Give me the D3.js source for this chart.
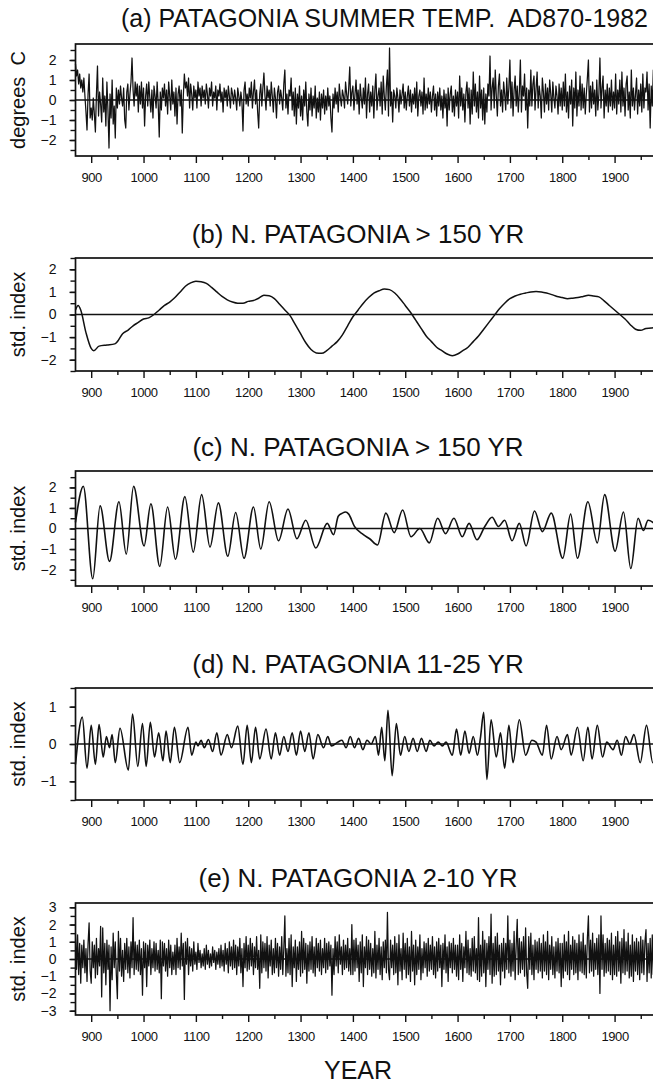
<!DOCTYPE html>
<html>
<head>
<meta charset="utf-8">
<script src="https://cdn.jsdelivr.net/npm/d3@7"></script>
<style>
  html, body { margin: 0; padding: 0; background: #fff; }
  svg text { fill: #111; white-space: pre; }
</style>
</head>
<body>
<div id="viz"></div>
<script>
// --- data ---
const titles = [
  "(a) PATAGONIA SUMMER TEMP.  AD870-1982",
  "(b) N. PATAGONIA > 150 YR",
  "(c) N. PATAGONIA > 150 YR",
  "(d) N. PATAGONIA 11-25 YR",
  "(e) N. PATAGONIA 2-10 YR"
];
const yLabels = ["degrees  C", "std. index", "std. index", "std. index", "std. index"];
const xTicks = [900, 1000, 1100, 1200, 1300, 1400, 1500, 1600, 1700, 1800, 1900];
const xMinorTicks = [950, 1050, 1150, 1250, 1350, 1450, 1550, 1650, 1750, 1850, 1950];

// annual series sampled every 2 years, AD870-1982 (5 values per decade)
const sampleStart = 870, sampleStep = 2;
const tempA = [
  1.8, 1.2, 1.5, 0.8, 1.3,   0.6, 1.0, 0.4, 1.1, 0.2,   -0.6, -1.5, 0.3, 1.3, -0.9,
  -0.4, -1.0, 0.1, -0.7, -1.6,   0.3, 1.7, -0.8, 0.4, -0.2,   -1.1, 1.1, -0.6, 0.2, -1.3,
  0.9, -0.5, -2.4, 0.3, -0.9,   1.0, -1.2, -0.3, -1.9, 0.6,   -0.4, 0.5, -0.2, 0.7, 0.1,
  -0.3, 0.6, -1.0, -1.4, 0.4,   0.8, -0.5, 0.3, 0.9, 2.1,   0.5, -0.3, 0.9, 0.2, 0.8,
  -0.6, 0.7, -0.2, 0.9, -0.4,
  0.6, -1.3, 0.2, 0.8, -0.3,   0.9, 0.1, -0.6, 0.5, -0.9,   0.7, 0.2, -0.4, 0.9, -0.2,
  -1.85, 0.4, -0.5, 0.6, 0.1,   0.8, -0.3, 0.5, -0.7, 0.9,   0.2, -0.5, 1.0, -0.2, 0.4,
  -0.8, 0.6, -1.2, 0.3, 0.7,   -0.3, 0.5, -1.65, 0.2, 1.3,   0.6, 0.9, 0.2, 1.1, -0.4,
  0.8, 0.3, -0.5, 0.7, 0.1,
  0.5, -0.4, 0.9, 0.2, 0.6,   -0.3, 0.7, 0.1, 0.5, -0.2,   0.8, 0.3, -0.4, 0.6, 0.2,
  0.9, -0.3, 0.4, 0.1, 0.7,   -0.5, 0.5, 0.2, 0.8, -0.1,   0.4, -0.6, 0.6, 0.1, 0.5,
  -0.3, 0.7, 0.2, -0.4, 0.6,   0.3, -0.2, 0.5, 0.1, -0.5,   0.6, 0.2, -0.3, 0.4, -0.1,
  -1.55, 0.5, 0.9, -0.2, 0.3,
  -0.3, 0.6, 0.1, 0.9, -0.4,   0.4, 1.0, -0.2, 0.5, -0.6,   -1.4, 0.3, 0.8, -0.3, 0.6,
  1.35, 0.2, -0.5, 0.7, 0.1,   0.5, -0.3, 0.9, 0.2, -0.6,   0.6, 0.1, -0.9, 0.4, 0.7,
  -0.2, 0.5, 0.1, -0.5, 0.8,   1.5, -0.4, 0.3, -0.7, 0.5,   0.2, 1.1, -0.5, 0.4, -0.8,
  0.6, -1.2, 0.3, -0.4, 0.7,
  -0.8, 0.2, -1.0, 0.5, -0.3,   0.9, -0.6, -1.3, 0.3, -0.5,   0.6, -0.8, 0.2, -0.4, 0.7,
  -0.9, 0.1, -0.6, 0.4, -1.0,   0.3, -0.4, 0.5, -0.7, 0.2,   -0.5, 0.6, -0.3, 0.2, -0.9,
  -1.6, 0.3, -0.4, 0.6, -0.2,   0.4, -0.6, 0.8, 0.1, -0.3,   0.5, 0.2, -0.4, 0.9, 0.3,
  -0.2, 0.6, 1.65, -0.3, 0.4,
  0.7, -0.5, 0.3, 1.0, -0.2,   0.5, -0.7, 0.8, 0.1, -0.4,   0.6, -0.2, 1.1, -0.9, 0.3,
  0.8, -0.6, 0.4, -0.3, 0.7,   -0.9, 0.5, 1.3, -0.5, 0.2,   0.6, -0.3, 0.9, -0.7, 1.2,
  0.2, -0.5, 0.7, 1.5, -0.8,   2.6, -0.3, 0.4, -1.1, 0.5,   0.2, -0.4, 0.6, 0.1, -0.6,
  0.5, -0.2, 0.3, 0.8, -0.4,
  0.4, -0.5, 0.2, 0.7, -0.3,   0.5, -0.6, 0.3, -0.2, 0.6,   -0.4, 0.9, -0.8, 0.2, 0.5,
  -0.3, 0.4, -0.7, 1.1, -0.5,   0.3, -0.4, 0.6, -0.2, 0.4,   -0.6, 0.2, 0.7, -0.5, 0.3,
  -0.8, 0.4, -0.3, 0.6, -0.5,   0.2, -0.9, 0.5, -0.4, 0.3,   -1.3, 0.6, -0.5, 0.3, 0.7,
  -0.6, 0.2, -0.8, 0.5, -0.3,
  0.4, -0.9, 1.2, -0.3, 0.6,   -0.5, 0.3, -1.1, 0.4, 0.9,   -0.4, 0.6, -1.2, 0.5, -0.7,
  1.4, -0.3, 0.8, -0.6, 0.4,   -0.9, 1.2, -0.4, 0.5, -1.0,   0.6, -1.2, 0.3, -0.6, 0.8,
  0.2, 2.2, -0.5, 0.6, 1.1,   -0.4, 1.5, 0.2, -0.8, 0.7,   1.3, -0.3, 0.5, -0.6, 0.9,
  0.3, -0.5, 1.1, -0.2, 0.6,
  2.0, -0.4, 0.9, -0.8, 0.5,   1.2, -0.3, 0.7, -0.6, 0.4,   2.0, -0.6, 0.7, 0.2, 1.3,
  -0.5, 0.6, -1.4, 0.5, -0.3,   1.5, -0.3, 0.8, 1.2, -0.5,   0.6, 1.4, -0.4, 0.7, 0.2,
  -0.9, 1.1, 0.4, -0.6, 0.8,   -0.2, 0.6, -0.5, 1.0, 0.3,   -0.6, 0.9, 0.1, -0.4, 0.7,
  0.2, -0.7, 0.8, -0.3, 0.6,
  -0.5, 0.9, -0.3, 1.3, -0.6,   0.4, -0.9, 0.7, -0.2, 1.0,   -1.3, 0.6, -0.4, 1.4, -0.8,
  0.5, -0.3, 1.2, -0.5, 0.8,   -0.4, 0.6, -0.7, 0.3, 1.1,   2.0, -0.6, 0.7, -0.4, 0.9,
  -0.2, 0.5, -0.8, 1.0, -0.5,   0.3, 2.1, -0.4, 0.6, 1.2,   -0.9, 0.5, -0.3, 0.8, -0.6,
  0.6, -0.3, 1.0, -0.5, 0.4,
  -0.4, 1.3, -0.7, 0.5, -0.2,   1.0, -0.6, 1.4, -0.3, 0.6,   -0.8, 0.8, 1.2, -0.5, 0.4,
  -0.9, 1.5, -0.3, 0.6, -0.5,   0.3, 1.1, -0.7, 0.5, -0.3,   0.8, -0.6, 1.3, -0.4, 0.6,
  0.4, 1.4, -0.5, 0.8, -1.4,   0.7, -0.3, 1.5, -0.9, 0.5,   -1.2, -0.4
];
const band2to10 = [
  1.5, -0.6, 1.4, -0.9, 0.9,   -1.4, 0.8, -0.5, 1.1, -0.8,   0.6, -1.3, 0.9, 2.1, -0.7,
  -1.4, 1.0, -0.5, 0.8, -1.1,   1.2, -0.9, 0.6, -0.4, 1.9,   -2.2, 1.8, -0.8, 0.9, -1.5,
  1.1, -0.6, 0.8, -3.0, 0.7,   -1.2, 1.5, -0.5, 1.0, -0.9,   -2.3, 1.6, -0.7, 1.2, -1.0,
  0.5, -1.3, 0.9, -0.6, 1.2,   -0.8, 0.7, -1.1, 1.0, -0.5,   2.4, -0.9, 1.0, -0.6, 0.8,
  -0.7, 1.1, -0.9, 0.6, -2.1,
  1.0, -0.5, 0.9, -1.6, 0.8,   -0.4, 1.1, -0.9, 0.6, -0.5,   1.0, -0.7, 0.9, -0.6, 0.5,
  -0.8, 1.1, -2.3, 1.0, -0.4,   0.9, -0.7, 0.6, -1.0, 1.1,   -0.5, 0.8, -0.9, 0.4, -0.6,
  0.8, -0.9, 1.2, -0.5, 0.7,   -0.6, 1.5, -0.4, 0.9, -2.35,   1.0, -0.3, 1.2, -0.9, 0.7,
  -0.4, 0.6, -0.7, 1.0, -0.3,
  0.4, -0.6, 0.9, -0.2, 0.5,   -0.5, 0.3, -0.4, 0.6, -0.6,   0.8, -0.3, 0.5, -0.5, 0.3,
  -0.4, 0.7, -0.2, 0.5, -0.6,   0.4, -0.3, 0.6, -0.5, 0.8,   -0.4, 0.5, -0.7, 0.9, -0.3,
  0.6, -0.8, 1.0, -0.4, 0.7,   -0.6, 1.1, -0.5, 0.8, -0.9,   0.7, -0.4, 1.2, -0.8, 0.6,
  -1.6, 0.9, -0.5, 1.3, -0.7,
  0.8, -0.6, 1.2, -0.4, 0.9,   -0.9, 0.7, -0.5, 1.3, -0.6,   0.5, -1.7, 1.4, -0.8, 1.0,
  -0.5, 0.9, -0.7, 1.3, -1.1,   0.8, -0.4, 1.1, -0.9, 0.6,   -0.8, 1.2, -0.5, 0.9, -1.0,
  0.7, -0.6, 1.3, -0.9, 0.6,   2.5, -1.0, 0.6, -0.8, 1.2,   -0.9, 1.4, -1.6, 0.7, -0.5,
  1.1, -1.3, 0.7, -0.6, 1.0,
  -1.0, 1.6, -0.8, 1.2, -0.6,   0.9, -1.4, 0.8, -0.7, 1.0,   -0.6, 1.3, -0.8, 0.7, -1.0,
  1.2, -0.5, 0.9, -0.7, 1.1,   -0.9, 0.6, -0.5, 1.2, -0.8,   0.9, -0.6, 1.0, -0.4, 0.8,
  -2.1, 0.6, -0.9, 1.3, -0.4,   1.0, -0.8, 1.4, -0.3, 0.7,   -0.9, 1.1, -0.6, 0.8, -0.5,
  1.2, -0.7, 0.6, -0.9, 2.0,
  -0.9, 1.1, -0.7, 1.2, -0.5,   0.8, -1.3, 1.0, -0.8, 1.4,   -1.6, 0.7, -0.5, 1.3, -0.9,
  1.1, -0.6, 0.9, -1.0, 0.6,   -0.8, 1.6, -1.1, 0.8, -0.6,   1.2, -0.9, 0.7, -1.2, 1.0,
  -0.5, 1.1, -0.8, 2.7, -0.6,   -1.2, 1.1, -0.5, 0.8, -0.9,   1.3, -0.8, 0.9, -1.5, 1.4,
  -0.7, 0.6, -1.2, 1.5, -0.6,
  0.9, -1.1, 1.2, -0.9, 0.7,   -1.3, 1.6, -0.7, 0.8, -1.5,   1.1, -0.9, 0.7, -0.6, 1.4,
  -1.2, 0.6, -0.8, 1.0, -0.5,   0.9, -1.0, 1.2, -0.7, 0.8,   -0.6, 1.3, -0.9, 0.7, -1.1,
  1.0, -0.7, 1.2, -0.5, 0.8,   -1.6, 0.9, -0.6, 1.4, -0.8,   0.7, -1.3, 1.0, -0.5, 0.9,
  -0.8, 1.2, -0.6, 0.8, -1.0,
  0.8, -1.2, 1.4, -0.6, 0.9,   -1.3, 0.7, -0.5, 1.6, -0.8,   1.1, -0.9, 0.6, -1.0, 1.2,
  -0.7, 1.3, -0.8, 0.6, -1.2,   2.4, -1.3, 0.8, -1.0, 1.6,   -0.8, 1.1, -1.6, 0.9, -0.6,
  1.3, -0.9, 2.6, -1.4, 0.9,   -1.0, 1.3, -0.9, 1.5, -0.7,   0.8, -1.5, 0.9, -0.7, 1.2,
  -1.1, 0.9, -0.6, 2.5, -0.8,
  1.1, -1.0, 0.9, -0.7, 1.6,   -1.2, 0.8, 2.3, -0.9, 1.2,   -0.8, 1.0, -0.6, 1.3, -1.0,
  1.8, -0.8, -1.7, 1.3, -0.6,   1.5, -0.9, 0.8, -1.2, 1.1,   -0.6, 1.0, -0.8, 1.2, -0.7,
  0.9, -1.1, 1.4, -0.7, 1.0,   -0.9, 1.6, -1.2, 0.8, -0.6,   1.3, -0.9, 0.7, -1.1, 1.0,
  -0.7, 1.2, -0.8, 0.9, -1.6,
  0.9, -1.1, 1.4, -0.7, 1.0,   -0.9, 1.6, -1.2, 0.8, -0.6,   1.3, -0.9, 1.1, -0.8, 0.9,
  -1.2, 1.4, -0.7, 1.0, -0.8,   1.5, -0.9, 0.8, -1.1, 1.2,   2.5, -0.8, 1.1, -0.7, 1.5,
  -1.0, 0.9, -0.6, 1.2, -0.9,   1.4, -2.0, 2.5, -0.6, 1.4,   -1.0, 0.9, -0.8, 1.2, -0.7,
  1.1, -0.9, 1.5, -1.2, 0.8,
  -0.9, 1.3, -1.0, 1.6, -0.7,   1.0, -1.4, 1.2, -0.8, 1.7,   -0.9, 1.0, -0.7, 1.5, -1.1,
  0.8, -1.0, 1.4, -1.3, 1.0,   -0.7, 1.2, -0.9, 1.0, -1.2,   1.3, -0.8, 1.1, -0.9, 1.0,
  1.7, -1.3, 0.9, -0.8, 1.2,   -1.1, 1.4, -0.9, 1.0, -0.7,   0.9, -0.6
];

// smooth > 150 yr component (b)
const lowYears = [870, 875, 880, 890, 900, 905, 915, 930, 945, 950, 960, 970, 980, 990, 1000, 1010, 1020, 1030, 1040, 1050,
  1060, 1070, 1080, 1090, 1100, 1110, 1120, 1130, 1140, 1150, 1160, 1170, 1180, 1190, 1200, 1210, 1220, 1230, 1240, 1250,
  1260, 1270, 1280, 1290, 1300, 1310, 1320, 1330, 1340, 1350, 1360, 1370, 1380, 1390, 1400, 1410, 1420, 1430, 1440, 1450,
  1460, 1470, 1480, 1490, 1500, 1510, 1520, 1530, 1540, 1550, 1560, 1570, 1580, 1590, 1600, 1610, 1620, 1630, 1640, 1650,
  1660, 1670, 1680, 1690, 1700, 1710, 1720, 1730, 1740, 1750, 1760, 1770, 1780, 1790, 1800, 1810, 1820, 1830, 1840, 1850,
  1860, 1870, 1880, 1890, 1900, 1910, 1920, 1930, 1940, 1950, 1960, 1970, 1982];
const lowValues = [0.2, 0.4, 0.2, -0.8, -1.5, -1.6, -1.4, -1.35, -1.3, -1.2, -0.85, -0.7, -0.5, -0.35, -0.2, -0.15, 0.0, 0.2, 0.4, 0.55,
  0.75, 1.0, 1.25, 1.4, 1.47, 1.45, 1.38, 1.2, 1.0, 0.8, 0.65, 0.55, 0.5, 0.5, 0.58, 0.62, 0.72, 0.85, 0.83, 0.7,
  0.45, 0.2, -0.05, -0.45, -0.85, -1.25, -1.55, -1.7, -1.72, -1.6, -1.4, -1.2, -0.9, -0.5, -0.1, 0.2, 0.5, 0.75, 0.95, 1.05,
  1.13, 1.1, 0.95, 0.7, 0.4, 0.1, -0.25, -0.6, -0.95, -1.2, -1.45, -1.6, -1.75, -1.82, -1.75, -1.6, -1.45, -1.2, -0.95, -0.65,
  -0.35, -0.05, 0.25, 0.5, 0.7, 0.82, 0.9, 0.95, 1.0, 1.02, 1.0, 0.95, 0.88, 0.8, 0.75, 0.7, 0.72, 0.75, 0.8, 0.85,
  0.82, 0.78, 0.6, 0.4, 0.2, 0.0, -0.2, -0.45, -0.65, -0.7, -0.62, -0.6, -0.55];

// panel (c) turning points
const cYears = [870, 885, 903, 917, 935, 953, 967, 981, 1001, 1014, 1031, 1046, 1061, 1079, 1095, 1111, 1127, 1143, 1161, 1176,
  1192, 1210, 1224, 1240, 1258, 1276, 1293, 1310, 1329, 1351, 1363, 1372, 1380, 1386, 1392, 1403, 1420, 1432, 1447, 1463,
  1479, 1495, 1511, 1528, 1546, 1562, 1577, 1593, 1609, 1622, 1637, 1652, 1666, 1678, 1690, 1704, 1718, 1731, 1747, 1762,
  1779, 1801, 1816, 1829, 1849, 1867, 1881, 1901, 1917, 1931, 1945, 1955, 1964, 1982];
const cValues = [0.3, 2.05, -2.45, 1.1, -1.6, 1.3, -1.25, 2.05, -0.85, 1.2, -1.85, 1.05, -1.5, 1.55, -1.15, 1.65, -0.9, 1.25, -1.35, 0.78,
  -1.45, 1.05, -1.0, 1.3, -0.6, 0.95, -0.5, 0.4, -0.95, 0.25, -0.3, 0.6, 0.75, 0.8, 0.7, 0.1, -0.3, -0.5, -0.8, 0.75,
  -0.2, 0.9, -0.4, 0.0, -0.7, 0.5, -0.25, 0.5, -0.4, 0.25, -0.55, 0.1, 0.55, 0.1, 0.4, -0.6, 0.25, -0.85, 0.85, -0.15,
  0.75, -1.45, 0.7, -1.45, 1.3, -0.7, 1.65, -1.1, 0.8, -1.95, 0.5, -0.1, 0.4, 0.1];

// panel (d) turning points
const dYears = [870, 883, 892, 900, 908, 915, 923, 929, 935, 940, 946, 955, 971, 979, 989, 998, 1005, 1013, 1021, 1029,
  1037, 1043, 1051, 1059, 1069, 1085, 1092, 1100, 1104, 1110, 1116, 1124, 1132, 1140, 1148, 1160, 1168, 1180, 1190, 1198,
  1206, 1214, 1222, 1234, 1244, 1252, 1260, 1268, 1276, 1284, 1292, 1300, 1308, 1316, 1324, 1333, 1344, 1352, 1359, 1371,
  1379, 1387, 1395, 1403, 1411, 1419, 1427, 1435, 1443, 1449, 1455, 1461, 1467, 1475, 1483, 1491, 1499, 1507, 1515, 1523,
  1531, 1540, 1547, 1555, 1563, 1571, 1578, 1590, 1598, 1606, 1614, 1622, 1630, 1638, 1644, 1650, 1656, 1664, 1674, 1682,
  1690, 1698, 1706, 1718, 1730, 1742, 1750, 1762, 1770, 1779, 1790, 1798, 1810, 1817, 1829, 1840, 1849, 1857, 1867, 1877,
  1885, 1897, 1905, 1913, 1921, 1929, 1937, 1949, 1961, 1973, 1982];
const dValues = [-0.55, 0.72, -0.65, 0.5, -0.55, 0.52, -0.35, 0.2, -0.1, 0.25, -0.5, 0.42, -0.7, 0.8, -0.6, 0.55, -0.6, 0.58, -0.35, 0.3,
  -0.45, 0.35, -0.5, 0.45, -0.5, 0.45, -0.3, 0.05, -0.05, 0.1, -0.1, 0.12, -0.2, 0.3, -0.3, 0.25, -0.1, 0.48, -0.55, 0.5,
  -0.5, 0.45, -0.4, 0.4, -0.4, 0.3, -0.3, 0.2, -0.2, 0.3, -0.3, 0.35, -0.2, 0.3, -0.4, 0.25, -0.1, 0.2, -0.05, 0.05,
  0.1, -0.1, 0.2, -0.1, 0.15, -0.15, 0.1, 0.0, 0.2, -0.3, 0.45, -0.45, 0.9, -0.85, 0.55, -0.3, 0.2, -0.2, 0.15, -0.2,
  0.15, -0.2, 0.1, -0.05, 0.05, -0.05, 0.05, -0.3, 0.4, -0.3, 0.35, -0.25, 0.2, -0.3, 0.2, 0.85, -0.95, 0.65, -0.35, 0.3,
  -0.65, 0.5, -0.5, 0.65, -0.3, 0.1, 0.05, -0.3, 0.5, -0.4, 0.2, -0.15, 0.25, -0.3, 0.45, -0.45, 0.45, -0.4, 0.5, -0.35,
  0.05, -0.15, 0.1, -0.3, 0.2, 0.0, 0.25, -0.5, 0.5, -0.5, -0.2];

// --- layout ---
const width = 653, height = 1087;
const x0 = 75.5, x1 = 657.5;
const x = d3.scaleLinear().domain([870, 1982]).range([x0, x1]);

const sampled = vals => vals.map((v, i) => [sampleStart + i * sampleStep, v]);
const zipped = (ys, vs) => ys.map((yr, i) => [yr, vs[i]]);

const panels = [
  {top: 44, bottom: 156, dom: [-2.8, 2.8], major: [-2, -1, 0, 1, 2], minor: d3.range(-2.5, 2.51, 0.5), pts: sampled(tempA), curve: d3.curveLinear, lw: 1.25},
  {top: 258, bottom: 371, dom: [-2.5, 2.5], major: [-2, -1, 0, 1, 2], minor: d3.range(-2.5, 2.51, 0.5), pts: zipped(lowYears, lowValues), curve: d3.curveMonotoneX, lw: 1.5},
  {top: 471, bottom: 586, dom: [-2.8, 2.8], major: [-2, -1, 0, 1, 2], minor: d3.range(-2.5, 2.51, 0.5), pts: zipped(cYears, cValues), curve: d3.curveMonotoneX, lw: 1.6},
  {top: 688, bottom: 800, dom: [-1.5, 1.5], major: [-1, 0, 1], minor: d3.range(-1.5, 1.51, 0.5), pts: zipped(dYears, dValues), curve: d3.curveMonotoneX, lw: 1.6},
  {top: 903, bottom: 1015, dom: [-3.25, 3.25], major: [-3, -2, -1, 0, 1, 2, 3], minor: d3.range(-3, 3.01, 0.5), pts: sampled(band2to10), curve: d3.curveLinear, lw: 1.25}
];
const titleY = [27, 243, 456, 673, 887];

const svg = d3.select('#viz').append('svg')
  .attr('width', width)
  .attr('height', height)
  .attr('viewBox', `0 0 ${width} ${height}`)
  .attr('role', 'img')
  .attr('aria-label', 'Patagonia summer temperature reconstruction AD870-1982 and its filtered components');

const fmt = d => d < 0 ? '\u2212' + Math.abs(d) : String(d);
const sans = '"Liberation Sans", Arial, sans-serif';

panels.forEach((p, i) => {
  const y = d3.scaleLinear().domain(p.dom).range([p.bottom, p.top]);
  const g = svg.append('g');

  const t = g.append('text')
    .attr('y', titleY[i])
    .text(titles[i]);
  if (i === 0) t.attr('x', 648).attr('text-anchor', 'end').style('font', `25px ${sans}`);
  else t.attr('x', 358).attr('text-anchor', 'middle').style('font', `26px ${sans}`);

  g.append('text')
    .attr('transform', `translate(25,${(p.top + p.bottom) / 2}) rotate(-90)`)
    .attr('text-anchor', 'middle')
    .style('font', `20px ${sans}`)
    .text(yLabels[i]);

  const yMinor = g.append('g').attr('transform', `translate(${x0},0)`)
    .call(d3.axisLeft(y).tickValues(p.minor).tickSize(5).tickFormat(''));
  yMinor.select('.domain').remove();

  const yAxis = g.append('g').attr('transform', `translate(${x0},0)`)
    .call(d3.axisLeft(y).tickValues(p.major).tickSize(6).tickPadding(13).tickFormat(fmt));
  yAxis.select('.domain').remove();
  yAxis.selectAll('text').style('font', `14px ${sans}`);

  const xAxis = g.append('g').attr('transform', `translate(0,${p.bottom})`)
    .call(d3.axisBottom(x).tickValues(xTicks).tickSize(7).tickPadding(10).tickFormat(d3.format('d')));
  xAxis.select('.domain').remove();
  xAxis.selectAll('text').style('font', `13px ${sans}`).style('letter-spacing', '-0.4px');

  const xMinor = g.append('g').attr('transform', `translate(0,${p.bottom})`)
    .call(d3.axisBottom(x).tickValues(xMinorTicks).tickSize(4).tickFormat(''));
  xMinor.select('.domain').remove();

  g.selectAll('.tick line').attr('stroke', '#111').attr('stroke-width', 1.4);

  g.append('rect')
    .attr('x', x0).attr('y', p.top)
    .attr('width', x1 - x0).attr('height', p.bottom - p.top)
    .attr('fill', 'none').attr('stroke', '#111').attr('stroke-width', 1.7);

  g.append('line')
    .attr('x1', x0).attr('x2', x1)
    .attr('y1', y(0)).attr('y2', y(0))
    .attr('stroke', '#111').attr('stroke-width', 1.3);

  const line = d3.line().x(d => x(d[0])).y(d => y(d[1])).curve(p.curve);
  g.append('path')
    .datum(p.pts)
    .attr('d', line)
    .attr('fill', 'none')
    .attr('stroke', '#111')
    .attr('stroke-width', p.lw)
    .attr('stroke-linejoin', 'round');
});

svg.append('text')
  .attr('x', 358)
  .attr('y', 1079)
  .attr('text-anchor', 'middle')
  .style('font', `25px ${sans}`)
  .text('YEAR');
</script>
</body>
</html>
